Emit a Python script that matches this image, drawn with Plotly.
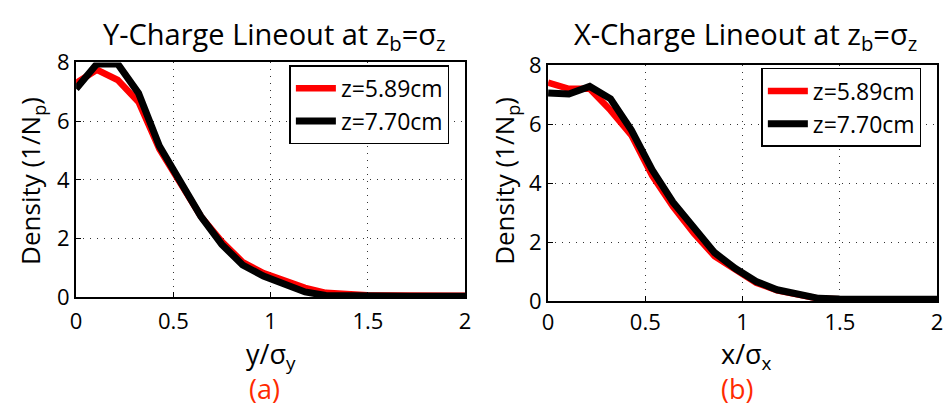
import plotly.graph_objects as go

# Sample positions (in units of sigma) shared by both lineouts
pos = [0.0, 0.107, 0.214, 0.321, 0.428, 0.535, 0.642, 0.749, 0.856, 0.963,
       1.070, 1.177, 1.284, 1.391, 1.498, 1.605, 1.712, 1.819, 1.926, 2.033]

# Y-charge lineout (panel a)
y_z589 = [7.30, 7.75, 7.40, 6.65, 5.05, 3.90, 2.75, 1.90, 1.20, 0.82,
          0.55, 0.32, 0.15, 0.10, 0.07, 0.06, 0.05, 0.05, 0.05, 0.05]
y_z770 = [7.10, 7.95, 7.95, 6.95, 5.15, 3.95, 2.75, 1.80, 1.10, 0.72,
          0.45, 0.18, 0.06, 0.04, 0.03, 0.03, 0.03, 0.03, 0.03, 0.03]

# X-charge lineout (panel b)
x_z589 = [7.41, 7.20, 7.20, 6.47, 5.63, 4.25, 3.20, 2.30, 1.52, 1.05,
          0.62, 0.36, 0.20, 0.08, 0.06, 0.05, 0.05, 0.05, 0.05, 0.05]
x_z770 = [7.06, 7.02, 7.28, 6.86, 5.80, 4.45, 3.35, 2.45, 1.64, 1.10,
          0.66, 0.38, 0.22, 0.09, 0.07, 0.06, 0.06, 0.06, 0.06, 0.06]

series_names = ["z=5.89cm", "z=7.70cm"]
series_colors = ["#ff0000", "#000000"]
series_widths = [6.5, 7]

x_ticks = [0, 0.5, 1, 1.5, 2]
x_tick_text = ["0", "0.5", "1", "1.5", "2"]
y_ticks = [0, 2, 4, 6, 8]

FONT = "Open Sans"

fig = go.Figure()

for vals, name, col, w in zip([y_z589, y_z770], series_names, series_colors, series_widths):
    fig.add_trace(go.Scatter(x=pos, y=vals, mode="lines", name=name,
                             line=dict(color=col, width=w),
                             xaxis="x", yaxis="y", legend="legend"))
for vals, name, col, w in zip([x_z589, x_z770], series_names, series_colors, series_widths):
    fig.add_trace(go.Scatter(x=pos, y=vals, mode="lines", name=name,
                             line=dict(color=col, width=w),
                             xaxis="x2", yaxis="y2", legend="legend2"))

W, H = 952, 418

def px(v):
    return v / W

def py(v):
    return 1 - v / H

axis_common = dict(
    showline=True, linecolor="black", linewidth=2, mirror=True,
    ticks="inside", ticklen=5, tickwidth=1, tickcolor="black",
    showgrid=True, gridcolor="#333333", griddash="1px,6px", gridwidth=1.2,
    zeroline=False, tickfont=dict(family=FONT, size=22, color="black"),
)

legend_common = dict(
    xanchor="left", yanchor="top", bgcolor="white", bordercolor="black",
    borderwidth=1.5, font=dict(family=FONT, size=23), tracegroupgap=0,
    itemwidth=40,
)

fig.update_layout(
    width=W, height=H,
    margin=dict(l=0, r=0, t=0, b=0),
    paper_bgcolor="white", plot_bgcolor="white",
    font=dict(family=FONT, color="black"),
    xaxis=dict(domain=[px(71), px(465)], range=[0, 2], tickvals=x_ticks,
               ticktext=x_tick_text, anchor="y", ticklabelstandoff=3, **axis_common),
    yaxis=dict(domain=[py(303), py(50)], range=[0, 8], tickvals=y_ticks,
               anchor="x", **axis_common),
    xaxis2=dict(domain=[px(549), px(943)], range=[0, 2], tickvals=x_ticks,
                ticktext=x_tick_text, anchor="y2", ticklabelstandoff=1, **axis_common),
    yaxis2=dict(domain=[py(307), py(53)], range=[0, 8], tickvals=y_ticks,
                anchor="x2", **axis_common),
    legend=dict(x=px(287), y=py(53), **legend_common),
    legend2=dict(x=px(765), y=py(56), **legend_common),
    showlegend=True,
)

annos = [
    dict(text="Y-Charge Lineout at z<sub>b</sub>=σ<sub>z</sub>", x=px(272), y=py(21),
         size=29, color="black"),
    dict(text="X-Charge Lineout at z<sub>b</sub>=σ<sub>z</sub>", x=px(749), y=py(21),
         size=29, color="black"),
    dict(text="y/σ<sub>y</sub>", x=px(268), y=py(366), size=27, color="black"),
    dict(text="x/σ<sub>x</sub>", x=px(750), y=py(366), size=27, color="black"),
    dict(text="(a)", x=px(262), y=py(401), size=27, color="#ff2a00"),
    dict(text="(b)", x=px(740), y=py(401), size=27, color="#ff2a00"),
]
for a in annos:
    fig.add_annotation(text=a["text"], x=a["x"], y=a["y"], xref="paper", yref="paper",
                       showarrow=False, xanchor="center", yanchor="middle",
                       font=dict(family=FONT, size=a["size"], color=a["color"]))

for xc in (px(26), px(506)):
    fig.add_annotation(text="Density (1/N<sub>p</sub>)", x=xc, y=py(178),
                       xref="paper", yref="paper", showarrow=False, textangle=-90,
                       xanchor="center", yanchor="middle",
                       font=dict(family=FONT, size=26, color="black"))

fig.write_html("out.html")
